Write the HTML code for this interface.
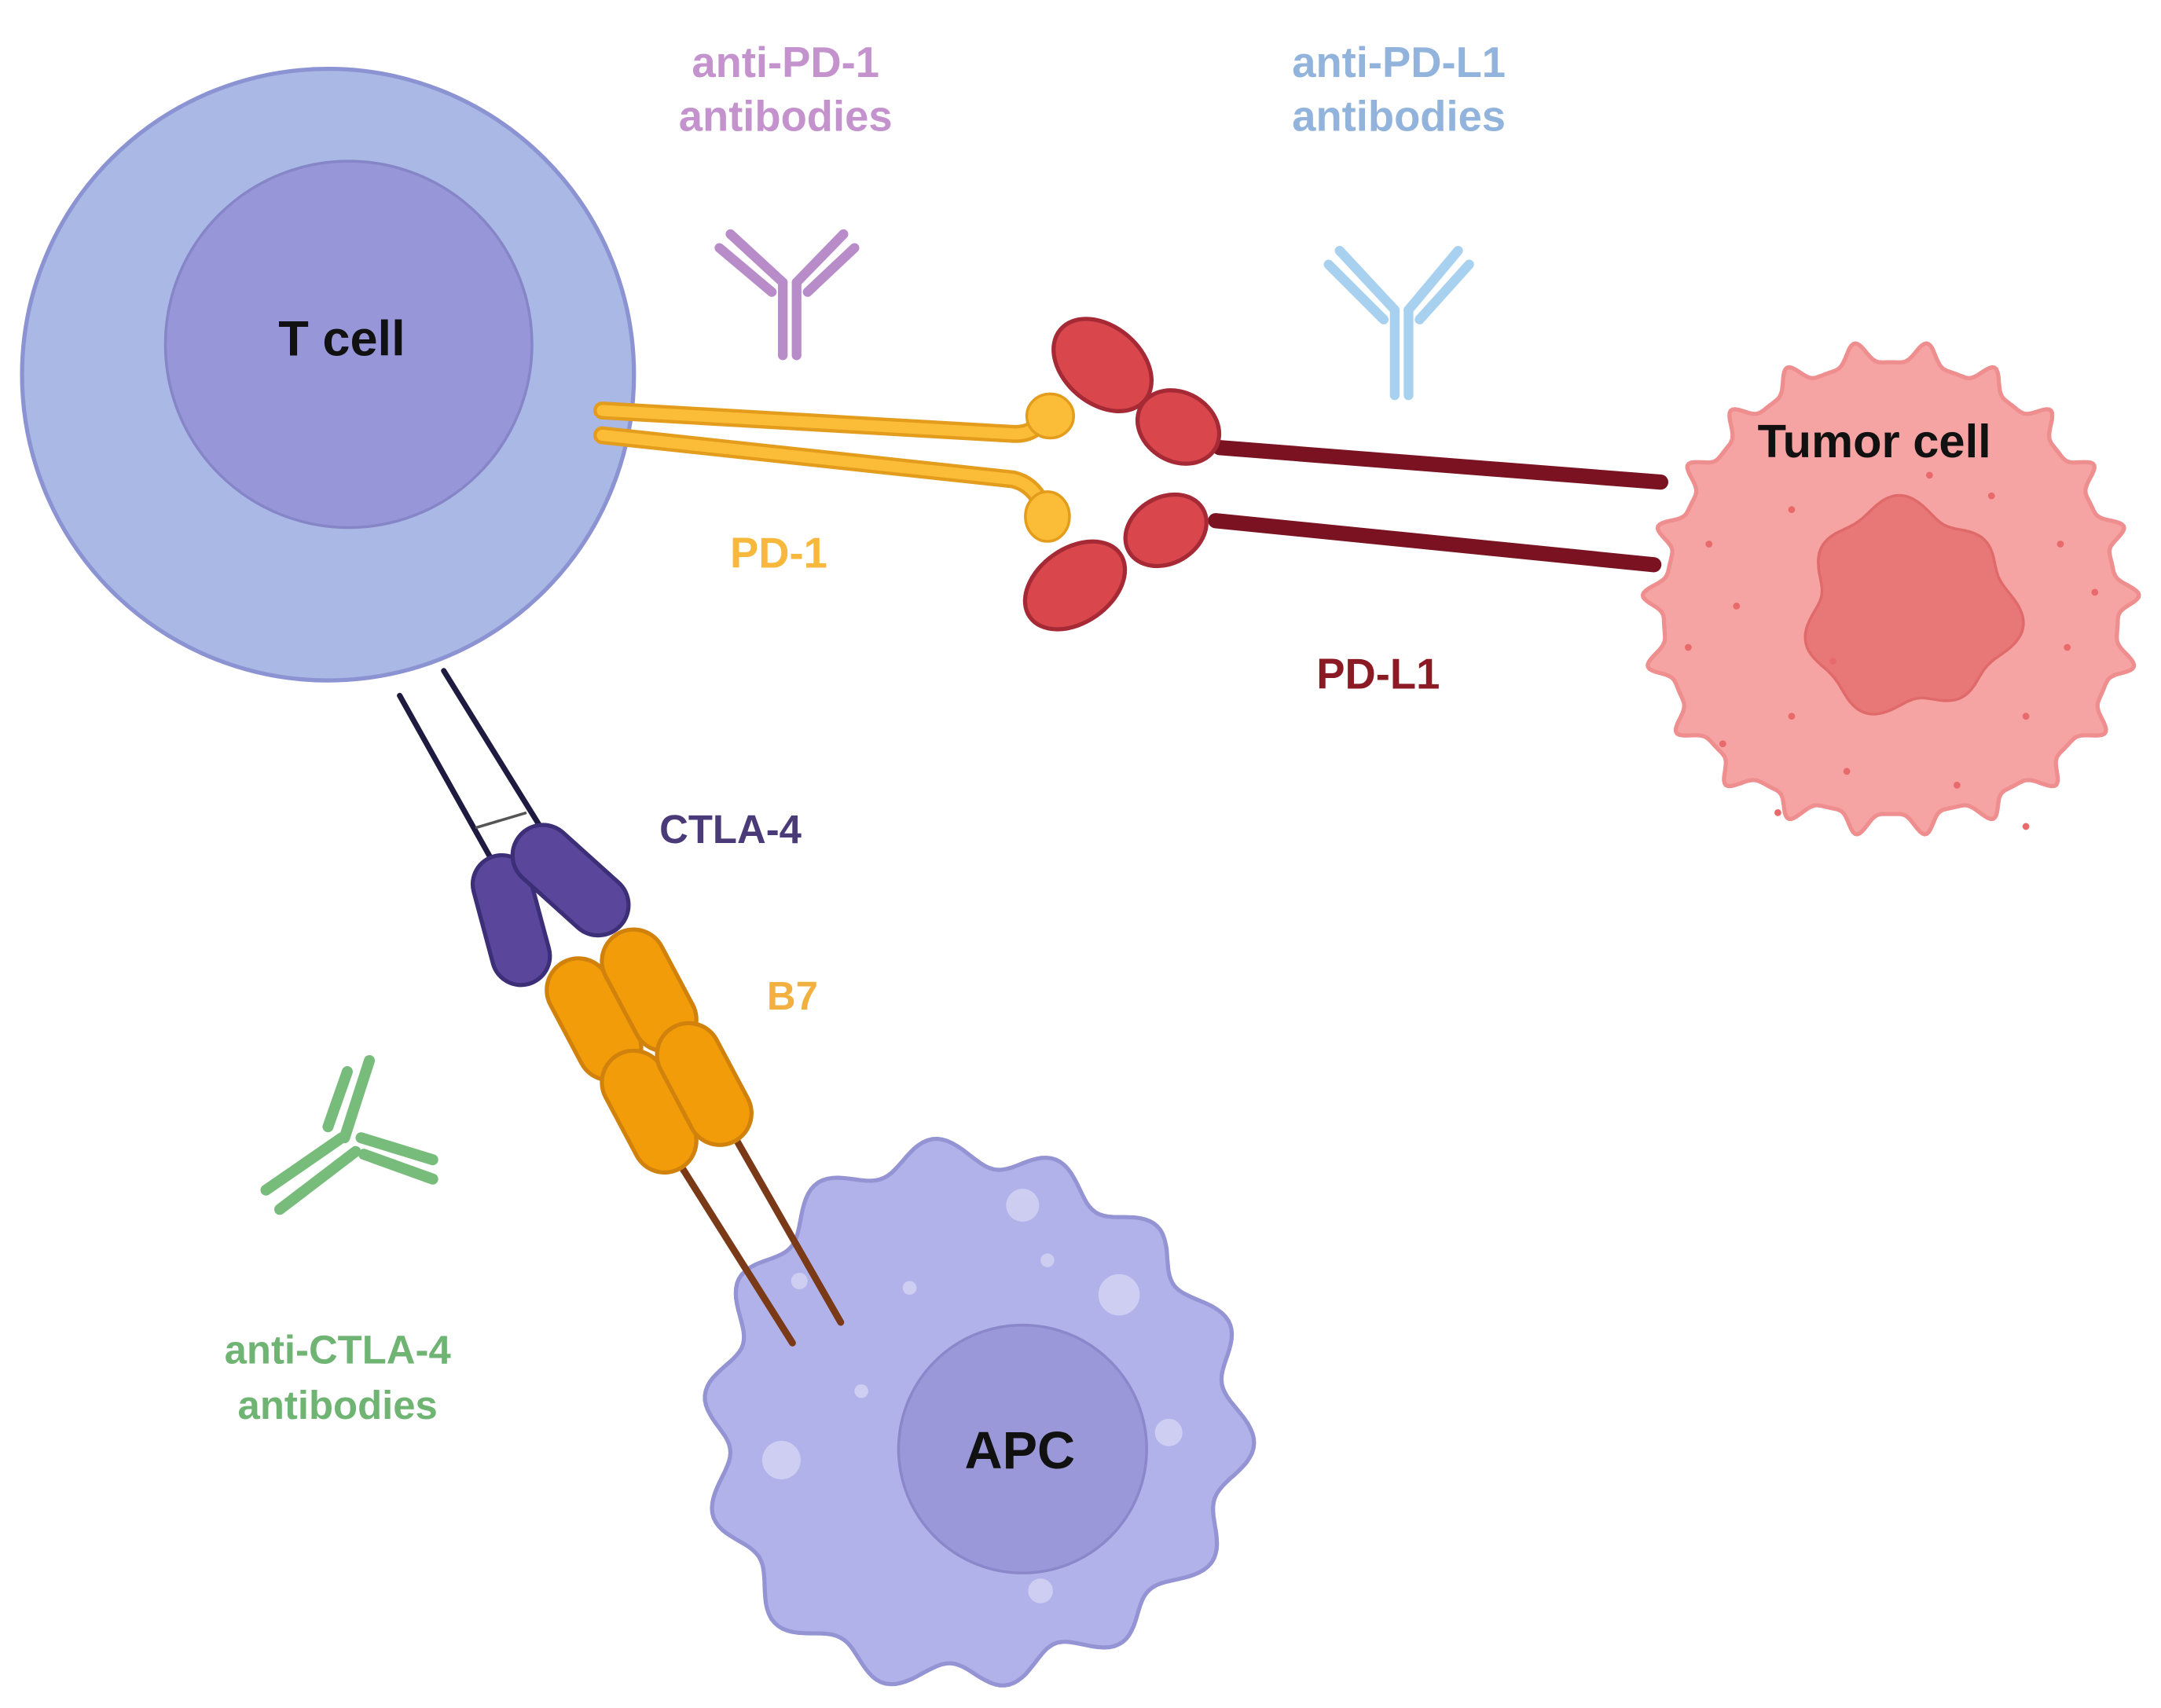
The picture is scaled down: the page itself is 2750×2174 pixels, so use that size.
<!DOCTYPE html>
<html><head><meta charset="utf-8"><style>
html,body{margin:0;padding:0;background:#fff;width:2750px;height:2174px;overflow:hidden}
svg{display:block}
text{font-family:"Liberation Sans",sans-serif;font-weight:bold;text-anchor:middle}
</style></head><body>
<svg width="2750" height="2174" viewBox="0 0 1568 1240" preserveAspectRatio="none" xmlns="http://www.w3.org/2000/svg">
<rect width="1568" height="1240" fill="#fff"/>
<!-- T cell -->
<circle cx="238" cy="272" r="222" fill="#a9b8e4" stroke="#8c93d2" stroke-width="3"/>
<circle cx="253" cy="250" r="133" fill="#9696d8" stroke="#8585c8" stroke-width="2"/>
<text x="248" y="258" font-size="36" fill="#111">T cell</text>

<!-- Tumor cell -->
<path id="tumor" fill="#f6a3a3" stroke="#ee8e8e" stroke-width="3"/>
<path id="tnuc" fill="#e87878" stroke="#e06a6a" stroke-width="2"/>
<g id="tdots" fill="#e86a6a"></g>
<text x="1360" y="332" font-size="34" fill="#111">Tumor cell</text>

<!-- APC -->
<path id="apc" fill="#b2b2ea" stroke="#9494d4" stroke-width="3"/>
<g fill="#cfd0f2" opacity="0.9">
<circle cx="742" cy="875" r="12"/><circle cx="812" cy="940" r="15"/><circle cx="567" cy="1060" r="14"/><circle cx="848" cy="1040" r="10"/><circle cx="755" cy="1155" r="9"/><circle cx="625" cy="1010" r="5"/><circle cx="660" cy="935" r="5"/><circle cx="580" cy="930" r="6"/><circle cx="760" cy="915" r="5"/>
</g>
<circle cx="742" cy="1052" r="90" fill="#9a98d8" stroke="#8a88ca" stroke-width="2"/>
<text x="740" y="1066" font-size="38" fill="#111">APC</text>

<!-- PD-1 -->
<g stroke="#e39c1c" stroke-width="13" stroke-linecap="round" fill="none">
<path d="M437 298 L735 315 Q752 316 760 300"/>
<path d="M437 316 L735 348 Q752 352 758 372"/>
</g>
<g stroke="#fbbd37" stroke-width="8" stroke-linecap="round" fill="none">
<path d="M437 298 L735 315 Q752 316 760 300"/>
<path d="M437 316 L735 348 Q752 352 758 372"/>
</g>
<ellipse cx="762" cy="302" rx="17" ry="16" fill="#fbbd37" stroke="#e39c1c" stroke-width="2"/>
<ellipse cx="760" cy="375" rx="16" ry="18" fill="#fbbd37" stroke="#e39c1c" stroke-width="2"/>

<!-- PD-L1 -->
<g stroke="#7a1222" stroke-width="11" stroke-linecap="round">
<line x1="885" y1="325" x2="1205" y2="350"/>
<line x1="882" y1="378" x2="1200" y2="410"/>
</g>
<g fill="#d9474d" stroke="#a52a35" stroke-width="3">
<ellipse cx="800" cy="265" rx="40" ry="28" transform="rotate(40 800 265)"/>
<ellipse cx="855" cy="310" rx="31" ry="25" transform="rotate(30 855 310)"/>
<ellipse cx="780" cy="425" rx="40" ry="27" transform="rotate(-35 780 425)"/>
<ellipse cx="846" cy="385" rx="31" ry="24" transform="rotate(-30 846 385)"/>
</g>

<!-- anti-PD-1 antibody -->
<g stroke="#b88cc8" stroke-width="7" stroke-linecap="round" fill="none">
<line x1="568" y1="205" x2="568" y2="258"/><line x1="578" y1="205" x2="578" y2="258"/>
<line x1="568" y1="205" x2="530" y2="170"/><line x1="560" y1="212" x2="522" y2="180"/>
<line x1="578" y1="205" x2="612" y2="170"/><line x1="586" y1="212" x2="620" y2="180"/>
</g>
<!-- anti-PD-L1 antibody -->
<g stroke="#a7d1ef" stroke-width="7" stroke-linecap="round" fill="none">
<line x1="1012" y1="225" x2="1012" y2="287"/><line x1="1022" y1="225" x2="1022" y2="287"/>
<line x1="1012" y1="225" x2="972" y2="182"/><line x1="1004" y1="232" x2="964" y2="192"/>
<line x1="1022" y1="225" x2="1058" y2="182"/><line x1="1030" y1="232" x2="1066" y2="192"/>
</g>
<!-- anti-CTLA-4 antibody -->
<g stroke="#78bc7c" stroke-width="8" stroke-linecap="round" fill="none">
<line x1="248" y1="826" x2="193" y2="864"/><line x1="258" y1="836" x2="203" y2="878"/>
<line x1="262" y1="826" x2="314" y2="842"/><line x1="264" y1="838" x2="314" y2="856"/>
<line x1="250" y1="826" x2="268" y2="770"/><line x1="238" y1="818" x2="252" y2="778"/>
</g>

<!-- CTLA-4 -->
<g stroke="#1e1a40" stroke-width="4" stroke-linecap="round">
<line x1="290" y1="505" x2="360" y2="630"/>
<line x1="322" y1="487" x2="395" y2="605"/>
</g>
<line x1="345" y1="601" x2="382" y2="590" stroke="#555" stroke-width="2"/>
<g fill="#5a479b" stroke="#3d2e78" stroke-width="3">
<rect x="350" y="620" width="42" height="96" rx="21" transform="rotate(-15 371 668)"/>
<rect x="392" y="590" width="44" height="98" rx="22" transform="rotate(-48 414 639)"/>
</g>

<!-- B7 -->
<g stroke="#7a3a18" stroke-width="5" stroke-linecap="round">
<line x1="490" y1="840" x2="575" y2="975"/>
<line x1="530" y1="820" x2="610" y2="960"/>
</g>
<g fill="#f39c0a" stroke="#d0820c" stroke-width="3">
<rect x="408" y="693" width="46" height="94" rx="23" transform="rotate(-28 431 740)"/>
<rect x="448" y="672" width="46" height="94" rx="23" transform="rotate(-28 471 719)"/>
<rect x="448" y="760" width="46" height="94" rx="23" transform="rotate(-28 471 807)"/>
<rect x="488" y="740" width="46" height="94" rx="23" transform="rotate(-28 511 787)"/>
</g>

<!-- Labels -->
<text x="570" y="56" font-size="31" fill="#c492cc">anti-PD-1</text>
<text x="570" y="95" font-size="31" fill="#c492cc">antibodies</text>
<text x="1015" y="56" font-size="31" fill="#92b4dc">anti-PD-L1</text>
<text x="1015" y="95" font-size="31" fill="#92b4dc">antibodies</text>
<text x="565" y="412" font-size="31" fill="#f8b83c">PD-1</text>
<text x="1000" y="500" font-size="31" fill="#8b1a24">PD-L1</text>
<text x="530" y="612" font-size="29" fill="#4a3a78">CTLA-4</text>
<text x="575" y="733" font-size="29" fill="#f2b040">B7</text>
<text x="245" y="990" font-size="29" fill="#70b474">anti-CTLA-4</text>
<text x="245" y="1030" font-size="29" fill="#70b474">antibodies</text>
</svg>
<script>
function blob(cx,cy,r,amp,n,ph,amp2){let d="";for(let i=0;i<=360;i++){const a=i*Math.PI/180;const rr=r+amp*Math.sin(n*a+ph)+(amp2||0)*Math.sin(3*a+1);d+=(i?"L":"M")+(cx+rr*Math.cos(a)).toFixed(1)+" "+(cy+rr*Math.sin(a)).toFixed(1);}return d+"Z";}
function spiky(cx,cy,r,n){let d="";for(let i=0;i<=720;i++){const a=i*Math.PI/360;let t=(n*a/(2*Math.PI))%1;const s=Math.pow(Math.abs(Math.cos(Math.PI*t)),6);const rr=r+16*s-6+5*Math.sin(3*a);d+=(i?"L":"M")+(cx+rr*Math.cos(a)).toFixed(1)+" "+(cy+rr*Math.sin(a)).toFixed(1);}return d+"Z";}
document.getElementById("tumor").setAttribute("d",spiky(1372,432,170,22));
document.getElementById("tnuc").setAttribute("d",blob(1385,442,74,5,7,0.5,5));
document.getElementById("apc").setAttribute("d",blob(705,1030,190,10,14,0.3,6));
const g=document.getElementById("tdots");
[[1240,395],[1260,440],[1225,470],[1300,520],[1290,590],[1340,560],[1420,570],[1470,520],[1500,470],[1495,395],[1300,370],[1445,360],[1330,480],[1250,540],[1520,430],[1400,345],[1470,600]].forEach(p=>{const c=document.createElementNS("http://www.w3.org/2000/svg","circle");c.setAttribute("cx",p[0]);c.setAttribute("cy",p[1]);c.setAttribute("r",2.5);g.appendChild(c);});
</script>
</body></html>
